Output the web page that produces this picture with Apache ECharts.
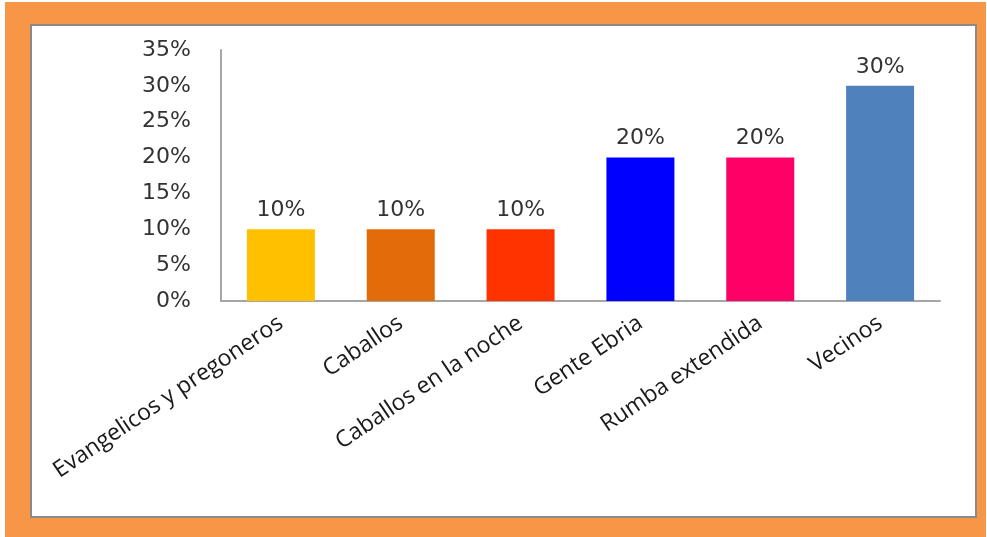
<!DOCTYPE html>
<html>
<head>
<meta charset="utf-8">
<script src="https://cdn.jsdelivr.net/npm/echarts@6/dist/echarts.min.js"></script>
<style>
html,body{margin:0;padding:0;background:#fff;}
#chart{width:987px;height:537px;}
</style>
</head>
<body>
<div id="chart"></div>
<script>
const categories = ['Evangelicos y pregoneros','Caballos','Caballos en la noche','Gente Ebria','Rumba extendida','Vecinos'];
const values = [0.10, 0.10, 0.10, 0.20, 0.20, 0.30];
const barColors = ['#FFC000','#E36C0A','#FF3300','#0000FF','#FF0066','#4F81BD'];
const yTicks = { min: 0, max: 0.35, interval: 0.05 };

const chart = echarts.init(document.getElementById('chart'), null, {renderer:'canvas'});
const pct = v => Math.round(v*100) + '%';
chart.setOption({
  animation: false,
  graphic: [
    { type:'rect', z:-10, silent:true, shape:{x:5,y:2,width:981,height:535}, style:{fill:'#F79646'} },
    { type:'rect', z:-9, silent:true, shape:{x:31,y:25,width:945,height:492}, style:{fill:'#ffffff', stroke:'#8a8a8a', lineWidth:2} }
  ],
  grid: { left: 221, top: 50, right: 47, bottom: 236, containLabel: false },
  xAxis: {
    type: 'category',
    data: categories,
    axisLine: { lineStyle: { color: '#a6a6a6', width: 2 } },
    axisTick: { show: false },
    axisLabel: { rotate: 34, interval: 0, margin: 20, color: '#1a1a1a', fontSize: 23, fontFamily: 'Open Sans' }
  },
  yAxis: {
    type: 'value',
    min: yTicks.min, max: yTicks.max, interval: yTicks.interval,
    axisLine: { show: true, lineStyle: { color: '#a6a6a6', width: 2 } },
    axisTick: { show: false },
    splitLine: { show: false },
    axisLabel: { formatter: pct, margin: 30, color: '#333333', fontSize: 22, fontFamily: 'DejaVu Sans' }
  },
  series: [{
    type: 'bar',
    data: values.map((v,i)=>({ value: v, itemStyle: { color: barColors[i] } })),
    barWidth: 68,
    label: { show: true, position: 'top', distance: 8, formatter: p => pct(p.value), color: '#333333', fontSize: 22, fontFamily: 'DejaVu Sans' }
  }]
});
</script>
</body>
</html>
